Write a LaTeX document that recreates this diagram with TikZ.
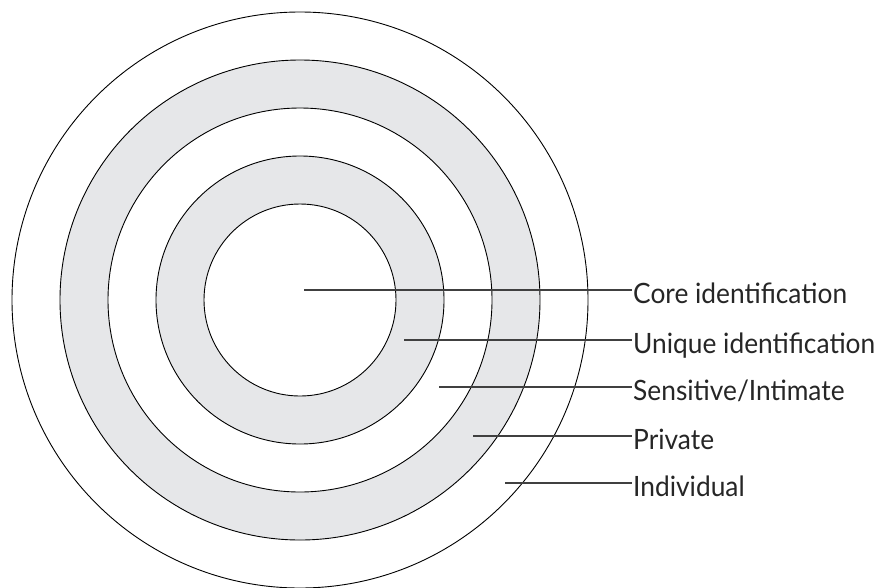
\documentclass[tikz,border=0pt]{standalone}
\usepackage{fontspec}
\setmainfont{Lato}[FakeStretch=0.94]
\begin{document}
\begin{tikzpicture}[x=1pt,y=-1pt,
  ring/.style={circle,draw=black,line width=0.9pt,inner sep=0pt,minimum size=#1},
  shade/.style={fill=ringgray},
  layerlabel/.style={anchor=base west,inner sep=0pt,font=\fontsize{28}{32}\selectfont,text=black!85},
  leader/.style={draw=black!75,line width=1.2pt}]
  \definecolor{ringgray}{HTML}{E6E7E9}
  \useasboundingbox (0,0) rectangle (875,587);

  % concentric layers, outermost first
  \node[ring=576pt,fill=white] (individual) at (300,300) {};
  \node[ring=480pt,shade]      (private)    at (300,300) {};
  \node[ring=384pt,fill=white] (sensitive)  at (300,300) {};
  \node[ring=288pt,shade]      (unique)     at (300,300) {};
  \node[ring=192pt,fill=white] (core)       at (300,300) {};

  % start points of the leader lines, one inside each layer
  \coordinate (pcore)   at (304,290);
  \coordinate (punique) at (404,340);
  \coordinate (psens)   at (439,387);
  \coordinate (ppriv)   at (473,436);
  \coordinate (pindiv)  at (505,483);

  % labels
  \node[layerlabel] (lcore)   at (633,303) {Core identification};
  \node[layerlabel] (lunique) at (633,353) {Unique identification};
  \node[layerlabel] (lsens)   at (633,400) {Sensitive/Intimate};
  \node[layerlabel] (lpriv)   at (633,449) {Private};
  \node[layerlabel] (lindiv)  at (633,496) {Individual};

  % leader lines
  \draw[leader] (pcore)   -- ([xshift=-1pt]pcore -| lcore.west);
  \draw[leader] (punique) -- ([xshift=-1pt]punique -| lunique.west);
  \draw[leader] (psens)   -- ([xshift=-1pt]psens -| lsens.west);
  \draw[leader] (ppriv)   -- ([xshift=-1pt]ppriv -| lpriv.west);
  \draw[leader] (pindiv)  -- ([xshift=-1pt]pindiv -| lindiv.west);
\end{tikzpicture}
\end{document}
